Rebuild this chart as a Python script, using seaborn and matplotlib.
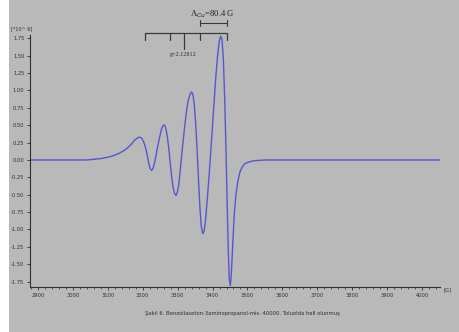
import numpy as np
import pandas as pd
import matplotlib
matplotlib.use("Agg")
import matplotlib.pyplot as plt
from matplotlib.patches import Rectangle
from matplotlib.ticker import MultipleLocator
import seaborn as sns

## EPR spectrum values (field in G, signal in 10^6)
field = [2877, 2950, 3000, 3040, 3060, 3080, 3100, 3115, 3130, 3145, 3158, 3168,
         3176, 3183, 3190, 3196, 3202, 3208, 3213, 3217, 3221, 3225, 3229, 3233,
         3238, 3243, 3249, 3254, 3259, 3263, 3267, 3271, 3275, 3279, 3283, 3287,
         3291, 3295, 3299, 3303, 3307, 3311, 3316, 3321, 3326, 3331, 3336, 3340,
         3344, 3348, 3352, 3356, 3360, 3364, 3368, 3372, 3376, 3380, 3384, 3389,
         3394, 3399, 3404, 3409, 3414, 3419, 3423, 3427, 3431, 3435, 3439, 3442,
         3445, 3448, 3451, 3454, 3458, 3462, 3467, 3472, 3478, 3485, 3493, 3503,
         3520, 3550, 3700, 4052]
signal = [0.0, 0.0, 0.0, 0.0, 0.01, 0.02, 0.04, 0.06, 0.09, 0.13, 0.18, 0.23,
          0.28, 0.31, 0.33, 0.32, 0.27, 0.18, 0.07, -0.04, -0.12, -0.15, -0.13, -0.06,
          0.06, 0.20, 0.34, 0.45, 0.50, 0.50, 0.44, 0.32, 0.15, -0.05, -0.24, -0.39,
          -0.48, -0.51, -0.47, -0.36, -0.18, 0.04, 0.28, 0.52, 0.72, 0.87, 0.95, 0.98,
          0.94, 0.78, 0.50, 0.12, -0.30, -0.70, -0.96, -1.06, -1.02, -0.86, -0.62, -0.30,
          0.05, 0.42, 0.80, 1.17, 1.48, 1.70, 1.78, 1.74, 1.45, 0.85, 0.05, -0.65,
          -1.30, -1.72, -1.81, -1.62, -1.20, -0.80, -0.50, -0.32, -0.18, -0.10, -0.05, -0.03,
          -0.01, 0.0, 0.0, 0.0]

## stick diagram (hyperfine lines) and g marker
stick_pos = [3207, 3278, 3364, 3442]
g_pos = 3318
g_label = "g=2.12812"
a_label = "A$_{Cu}$=80.4 G"
caption = "Şəkil 6. Benzoilaseton-3aminopropanol-mis. 40000. Toluolda həll olunmuş"

x_ticks = [2900, 3000, 3100, 3200, 3300, 3400, 3500, 3600, 3700, 3800, 3900, 4000]
y_ticks = [1.75, 1.50, 1.25, 1.00, 0.75, 0.50, 0.25, 0.00, -0.25, -0.50, -0.75,
           -1.00, -1.25, -1.50, -1.75]

df = pd.DataFrame({'Field': field, 'Signal': signal})

bg = '#b9b9b9'
ink = '#2e2e2e'
sns.set_style("ticks", {'axes.facecolor': bg, 'figure.facecolor': bg,
                        'axes.edgecolor': ink, 'xtick.color': ink, 'ytick.color': ink})

fig = plt.figure(figsize=(4.6, 3.32), dpi=100)
ax = fig.add_axes([0.065, 0.135, 0.892, 0.76])
ax.set_facecolor(bg)

sns.lineplot(data=df, x='Field', y='Signal', ax=ax, color='#5656cf', linewidth=1.0)

ax.set_xlim(2877, 4052)
ax.set_ylim(-1.83, 1.80)
ax.set_xticks(x_ticks)
ax.set_xticklabels([str(v) for v in x_ticks])
ax.xaxis.set_minor_locator(MultipleLocator(20))
ax.set_yticks(y_ticks)
ax.set_yticklabels([f"{v:.2f}" for v in y_ticks])
ax.tick_params(axis='both', which='major', direction='out', length=2.5, width=0.6,
               labelsize=3.7, labelcolor=ink, pad=1.5)
ax.tick_params(axis='x', which='minor', direction='out', length=1.5, width=0.5)
ax.set_xlabel('')
ax.set_ylabel('')
for s in ['top', 'right']:
    ax.spines[s].set_visible(False)
for s in ['left', 'bottom']:
    ax.spines[s].set_linewidth(0.8)

## unit labels
ax.text(4072, -1.83, "[G]", fontsize=3.7, color=ink, ha='center', va='top',
        clip_on=False, transform=ax.transData)
ax.text(-0.045, 1.025, "[*10^ 6]", fontsize=3.5, color=ink, ha='left', va='center',
        transform=ax.transAxes, clip_on=False)

## stick diagram above the spectrum
lc = '#3a3a3a'
ax.plot([stick_pos[0], stick_pos[-1]], [1.82, 1.82], color=lc, lw=0.9, clip_on=False)
for p in stick_pos:
    ax.plot([p, p], [1.82, 1.72], color=lc, lw=0.9, clip_on=False)
ax.plot([g_pos, g_pos], [1.82, 1.60], color=lc, lw=0.9, clip_on=False)
ax.text(g_pos - 3, 1.52, g_label, fontsize=4.4, color=ink, ha='center', va='center',
        family='Liberation Serif')

## hyperfine splitting bracket
ax.plot([stick_pos[2], stick_pos[3]], [1.97, 1.97], color=lc, lw=0.8, clip_on=False)
for p in stick_pos[2:]:
    ax.plot([p, p], [1.93, 2.01], color=lc, lw=0.8, clip_on=False)
ax.text(3400, 2.10, a_label, fontsize=6.2, color='#222222', ha='center', va='center',
        family='Liberation Serif', clip_on=False)

## caption
fig.text(0.528, 0.055, caption, fontsize=3.8, color=ink, ha='center', va='center')

## white border strip on the left of the scan
fig.patches.append(Rectangle((0, 0), 9 / 460, 1, transform=fig.transFigure,
                             facecolor='white', edgecolor='none', zorder=10))

fig.savefig("out.png", dpi=100, facecolor=bg)
